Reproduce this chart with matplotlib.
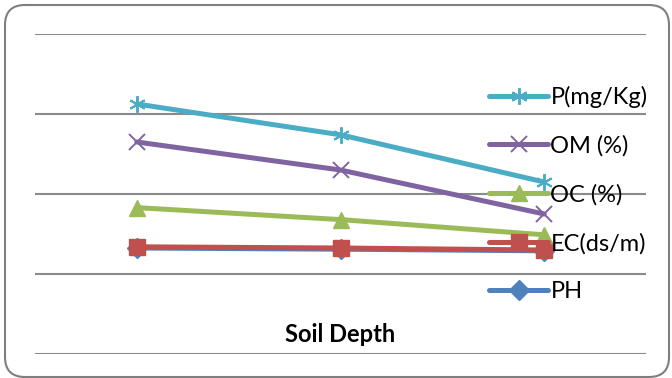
import matplotlib
matplotlib.use("Agg")
import matplotlib.pyplot as plt
from matplotlib.patches import FancyBboxPatch

# Soil properties across three depth classes
depths = ["", "", ""]
series_names = ["P(mg/Kg)", "OM (%)", "OC (%)", "EC(ds/m)", "PH"]
p_vals = [3.125, 2.74, 2.15]
om_vals = [2.65, 2.30, 1.75]
oc_vals = [1.83, 1.68, 1.49]
ec_vals = [1.34, 1.325, 1.30]
ph_vals = [1.325, 1.31, 1.29]

colors = {
    "P(mg/Kg)": "#4BACC6",
    "OM (%)": "#8064A2",
    "OC (%)": "#9BBB59",
    "EC(ds/m)": "#C0504D",
    "PH": "#4F81BD",
}

W, H = 672, 378
fig = plt.figure(figsize=(W / 100, H / 100), dpi=100)

# rounded chart border, drawn in pixel coordinates
bg = fig.add_axes([0, 0, 1, 1])
bg.set_xlim(0, W)
bg.set_ylim(H, 0)
bg.axis("off")
bg.add_patch(FancyBboxPatch((5, 5), 664, 372,
                            boxstyle="round,pad=0,rounding_size=20",
                            fill=False, edgecolor="#7f7f7f", lw=1.5,
                            clip_on=False))

ax = fig.add_axes([35 / W, 1 - 354 / H, 611 / W, 320 / H])

x = list(range(len(depths)))
lw = 3.6
styles = [
    ("PH", ph_vals, dict(marker="D", markersize=10)),
    ("EC(ds/m)", ec_vals, dict(marker="s", markersize=12)),
    ("OC (%)", oc_vals, dict(marker="^", markersize=12)),
    ("OM (%)", om_vals, dict(marker="x", markersize=11, markeredgewidth=1.4)),
    ("P(mg/Kg)", p_vals, dict(marker=(6, 2, 0), markersize=12, markeredgewidth=1.4)),
]
handles = {}
for name, vals, kw in styles:
    (h,) = ax.plot(x, vals, color=colors[name], lw=lw, label=name,
                   solid_capstyle="round", solid_joinstyle="round", **kw)
    handles[name] = h

ax.set_xlim(-0.5, 2.5)
ax.set_ylim(0, 4)
ax.set_yticks([0, 1, 2, 3, 4])
ax.set_xticks([])
ax.tick_params(left=False, labelleft=False)
ax.grid(axis="y", color="#8a8a8a", lw=1.5)
ax.set_axisbelow(True)
ax.patch.set_visible(False)
for s in ax.spines.values():
    s.set_visible(False)

ax.text(0.5, (354 - 335) / 320, "Soil Depth", transform=ax.transAxes,
        ha="center", va="center", fontsize=17, fontweight="bold",
        family="Lato")

leg = ax.legend([handles[n] for n in series_names], series_names,
                loc="upper left", bbox_to_anchor=(489 / W, 1 - 86 / H),
                bbox_transform=fig.transFigure, frameon=False,
                prop={"family": "Lato", "size": 17},
                handlelength=2.5, handletextpad=0.1, labelspacing=1.15,
                borderpad=0, borderaxespad=0)

fig.savefig("out.png", dpi=100)
